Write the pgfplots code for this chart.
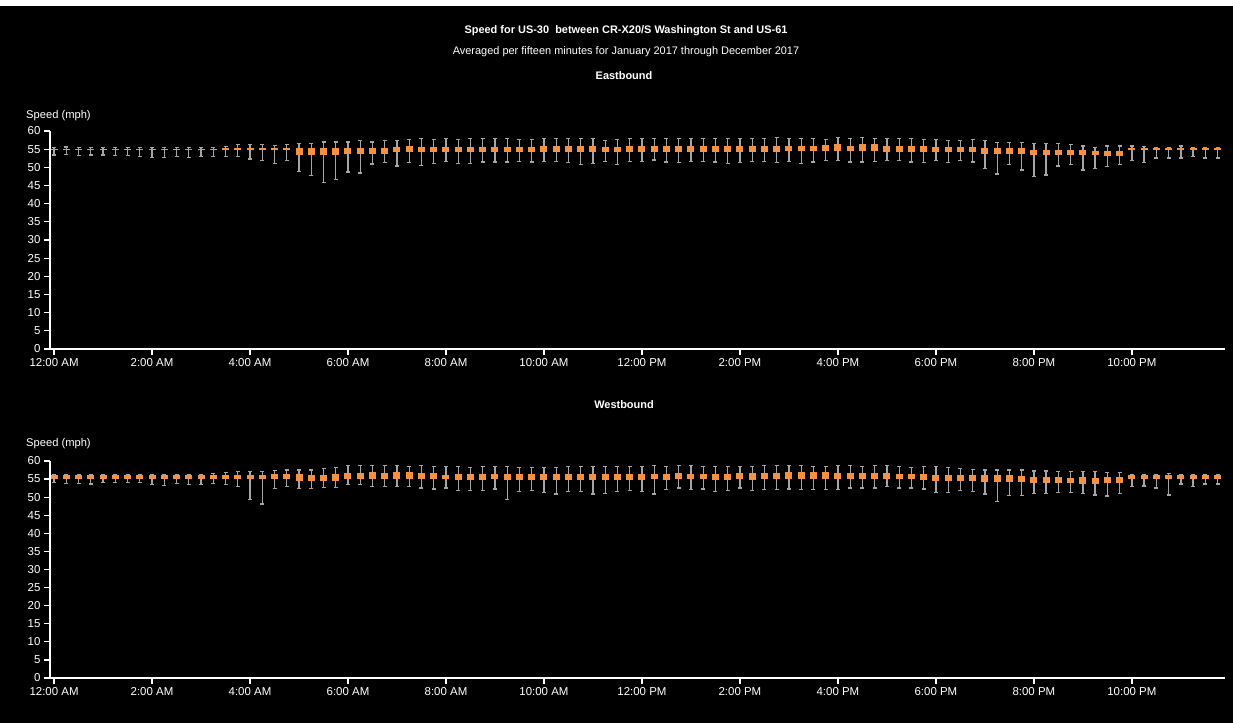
\documentclass[border=0pt]{standalone}
\usepackage{fontspec}
\setmainfont{Liberation Sans}
\usepackage{pgfplots}
\usepackage{pgfplotstable}
\pgfplotsset{compat=1.18}
\definecolor{boxorange}{RGB}{245,145,65}
\definecolor{whisk}{RGB}{165,165,165}

\pgfplotstableread{
i lo q1 q3 hi
0 53.4 54.8 55.1 55.4
1 53.5 54.8 55.1 55.6
2 53.3 54.8 55.1 55.4
3 53.4 54.8 55.1 55.4
4 53.4 54.8 55.1 55.4
5 53.25 54.8 55.1 55.4
6 53.2 54.8 55.1 55.4
7 53.0 54.8 55.1 55.4
8 52.8 54.8 55.1 55.4
9 52.8 54.8 55.1 55.4
10 53.0 54.8 55.1 55.4
11 52.8 54.8 55.1 55.4
12 53.0 54.8 55.1 55.4
13 53.0 54.8 55.1 55.4
14 53.0 54.7 55.2 55.7
15 53.0 54.7 55.2 56.2
16 52.3 54.7 55.2 56.2
17 51.9 54.7 55.2 56.2
18 51.0 54.7 55.2 56.0
19 51.9 54.7 55.2 56.2
20 48.9 53.5 55.2 56.5
21 47.75 53.5 55.2 56.5
22 45.8 53.5 55.2 57.0
23 46.6 53.5 55.45 57.0
24 48.7 53.7 55.45 57.0
25 48.4 53.7 55.45 57.3
26 50.95 53.7 55.45 57.0
27 51.3 53.7 55.45 57.3
28 50.4 54.1 55.7 57.3
29 51.4 54.25 55.9 57.6
30 50.5 54.2 55.7 57.9
31 51.15 54.1 55.7 57.75
32 51.7 54.2 55.7 57.9
33 51.15 54.2 55.7 57.75
34 51.15 54.2 55.7 57.9
35 51.5 54.2 55.7 57.9
36 51.5 54.2 55.7 57.9
37 51.5 54.2 55.7 57.9
38 51.7 54.2 55.7 57.75
39 51.5 54.1 55.7 57.6
40 51.7 54.25 55.9 57.9
41 51.7 54.25 55.9 57.9
42 51.3 54.25 55.9 57.9
43 50.8 54.25 55.9 57.9
44 51.15 54.25 55.9 57.9
45 51.7 54.25 55.7 57.4
46 50.8 54.25 55.7 57.75
47 51.7 54.25 55.9 57.9
48 51.7 54.35 56.0 57.9
49 52.05 54.35 56.0 57.9
50 51.5 54.35 56.0 57.9
51 51.3 54.1 56.0 57.9
52 51.7 54.35 56.0 57.9
53 51.7 54.35 56.0 57.9
54 51.5 54.35 56.0 57.9
55 51.15 54.25 55.9 57.9
56 51.3 54.25 55.9 57.9
57 51.7 54.35 56.0 57.9
58 51.7 54.35 56.0 57.9
59 51.3 54.35 56.0 58.3
60 51.7 54.55 56.0 57.9
61 51.15 54.55 56.0 57.9
62 51.5 54.55 56.0 57.9
63 51.9 54.45 56.1 57.6
64 51.9 54.6 56.3 58.2
65 51.5 54.45 56.0 57.9
66 51.5 54.6 56.3 58.2
67 51.7 54.6 56.3 57.9
68 51.9 54.25 56.0 57.9
69 51.9 54.25 56.0 57.9
70 51.5 54.25 56.0 57.9
71 51.3 54.25 56.0 57.6
72 51.9 54.25 55.7 57.6
73 51.3 54.1 55.7 57.4
74 51.9 54.1 55.7 57.4
75 51.5 54.1 55.7 57.6
76 49.6 53.7 55.45 57.3
77 48.2 53.7 55.2 56.8
78 50.7 53.7 55.2 56.8
79 49.3 53.7 55.2 56.8
80 47.4 53.45 54.9 56.5
81 47.9 53.45 54.7 56.5
82 50.4 53.45 54.7 56.5
83 50.7 53.45 54.7 56.3
84 49.3 53.45 54.7 55.9
85 49.6 53.45 54.45 55.55
86 50.2 53.2 54.45 55.9
87 50.7 53.2 54.45 55.9
88 51.9 54.8 55.2 55.9
89 51.3 54.8 55.2 55.7
90 52.6 54.8 55.2 55.55
91 52.6 54.8 55.2 55.55
92 52.6 54.8 55.2 55.9
93 52.9 54.8 55.2 55.55
94 52.6 54.8 55.2 55.55
95 52.6 54.8 55.2 55.35
}\east

\pgfplotstableread{
i lo q1 q3 hi
0 54.0 55.1 56.1 56.3
1 53.8 55.1 56.1 56.3
2 53.8 55.1 56.1 56.3
3 53.6 55.1 56.1 56.3
4 54.0 55.1 56.1 56.3
5 54.0 55.1 56.1 56.3
6 54.0 55.1 56.1 56.3
7 54.0 55.1 56.1 56.3
8 53.45 55.1 56.1 56.3
9 53.15 55.1 56.1 56.3
10 53.8 55.1 56.1 56.3
11 53.45 55.1 56.1 56.3
12 53.45 55.1 56.1 56.3
13 53.8 55.0 56.1 56.55
14 53.45 55.0 56.1 56.85
15 52.9 55.1 56.1 57.0
16 49.4 55.1 56.1 57.0
17 48.1 55.1 56.1 57.0
18 52.4 55.1 56.3 57.3
19 52.9 55.1 56.3 57.5
20 52.4 54.55 56.4 57.5
21 52.4 54.55 56.2 57.5
22 52.7 54.45 56.2 57.85
23 52.6 54.55 56.45 58.2
24 53.45 55.1 56.75 58.7
25 53.45 55.1 56.75 58.7
26 52.9 55.1 56.95 58.7
27 52.9 55.1 56.75 58.7
28 52.9 55.1 56.95 58.7
29 52.9 55.1 56.95 58.4
30 52.5 54.9 56.75 58.7
31 52.25 54.9 56.75 58.5
32 52.5 54.9 56.1 58.5
33 51.8 54.7 56.4 58.5
34 51.8 54.7 56.4 58.2
35 51.8 54.7 56.4 58.5
36 52.25 55.1 56.4 58.5
37 49.3 54.7 56.4 58.5
38 51.6 54.7 56.4 58.2
39 51.8 54.7 56.4 58.2
40 51.3 54.7 56.4 58.2
41 50.85 54.7 56.4 58.2
42 51.6 54.7 56.4 58.5
43 51.6 54.7 56.4 58.5
44 50.85 54.7 56.4 58.5
45 51.05 54.7 56.4 58.5
46 51.6 54.7 56.4 58.5
47 51.8 54.7 56.4 58.5
48 51.6 54.7 56.4 58.5
49 50.85 55.1 56.4 58.7
50 52.05 54.7 56.4 58.5
51 52.5 54.9 56.75 58.7
52 52.05 55.1 56.4 58.7
53 52.25 55.1 56.4 58.5
54 51.6 54.7 56.4 58.5
55 51.8 54.7 56.4 58.5
56 52.5 54.9 56.75 58.5
57 51.8 54.7 56.75 58.5
58 52.05 55.1 56.75 58.7
59 52.05 54.9 56.75 58.7
60 52.25 55.1 56.95 58.7
61 52.05 55.1 56.95 58.7
62 52.05 55.1 56.95 58.5
63 52.05 55.1 56.95 58.5
64 52.05 54.9 56.75 58.7
65 52.5 54.9 56.75 58.7
66 52.5 54.9 56.75 58.5
67 52.5 54.9 56.75 58.7
68 52.9 55.1 56.75 58.7
69 52.5 55.1 56.4 58.5
70 52.5 55.1 56.4 58.2
71 52.25 54.7 56.4 58.5
72 51.3 54.55 56.2 58.5
73 51.3 54.55 56.2 58.2
74 51.8 54.55 56.2 57.95
75 51.6 54.55 56.2 57.7
76 50.85 54.2 56.2 57.5
77 48.8 54.2 56.2 57.5
78 50.4 54.2 56.2 57.5
79 50.4 54.2 55.9 57.5
80 51.05 53.8 55.45 57.2
81 51.05 53.8 55.45 57.2
82 51.3 53.8 55.45 57.0
83 51.3 53.8 55.2 57.0
84 51.05 53.6 55.65 57.0
85 50.6 53.6 55.35 57.0
86 50.3 53.8 55.65 56.75
87 51.05 53.8 55.45 56.75
88 52.9 55.1 56.1 56.3
89 53.05 55.1 56.1 56.3
90 52.5 55.1 56.1 56.3
91 50.6 55.1 56.1 56.55
92 53.6 55.1 56.1 56.3
93 52.9 55.1 56.1 56.3
94 53.6 55.1 56.1 56.3
95 53.6 55.1 56.1 56.3
}\west

\pgfplotsset{
  speedaxis/.style={
    scale only axis, width=1175bp,
    xmin=-0.33, xmax=95.6, ymin=0, ymax=60,
    axis x line*=bottom, axis y line*=left,
    axis line style={white, line width=1.6bp, -},
    xtick={0,8,...,88},
    xticklabels={12:00 AM,2:00 AM,4:00 AM,6:00 AM,8:00 AM,10:00 AM,12:00 PM,2:00 PM,4:00 PM,6:00 PM,8:00 PM,10:00 PM},
    ytick={0,5,...,60},
    tick style={white, line width=1.3bp},
    major tick length=6bp,
    tick align=outside,
    ticklabel style={white, font=\fontsize{11.5}{13}\selectfont},
    /pgf/number format/assume math mode=true,
    clip=false,
  },
  whiskers/.style={draw=none, mark=none, forget plot,
    error bars/.cd, y dir=both, y explicit,
    error mark=-,
    error mark options={rotate=90, draw=whisk, line width=1.3bp, mark size=2bp},
    error bar style={draw=whisk, line width=1.3bp}},
  boxes/.style={draw=none, mark=none, forget plot,
    error bars/.cd, y dir=plus, y explicit, error mark=none,
    error bar style={draw=boxorange, line width=7bp}},
}

\begin{document}
\begin{tikzpicture}
\fill[white] (0bp,0bp) rectangle (1233bp,723bp);
\fill[black] (0bp,0bp) rectangle (1233bp,717bp);
\useasboundingbox (0bp,0bp) rectangle (1233bp,723bp);

\node[white, font=\bfseries\fontsize{11}{13}\selectfont] at (626bp,692bp) {Speed for US-30~ between CR-X20/S Washington St and US-61};
\node[white, font=\fontsize{11}{13}\selectfont] at (626bp,671bp) {Averaged per fifteen minutes for January 2017 through December 2017};
\node[white, font=\bfseries\fontsize{11}{13}\selectfont] at (624bp,647bp) {Eastbound};
\node[white, font=\bfseries\fontsize{11}{13}\selectfont] at (624bp,318bp) {Westbound};
\node[white, anchor=west, inner sep=0pt, font=\fontsize{11.2}{13}\selectfont] at (26bp,607bp) {Speed (mph)};
\node[white, anchor=west, inner sep=0pt, font=\fontsize{11.2}{13}\selectfont] at (26bp,279bp) {Speed (mph)};

\begin{axis}[speedaxis, height=218bp, at={(50bp,374bp)}, anchor=south west]
\addplot[whiskers] table[x=i, y=q1, y error plus expr=\thisrow{hi}-\thisrow{q1}, y error minus expr=\thisrow{q1}-\thisrow{lo}] {\east};
\addplot[boxes] table[x=i, y=q1, y error plus expr=\thisrow{q3}-\thisrow{q1}] {\east};
\end{axis}

\begin{axis}[speedaxis, height=217bp, at={(50bp,45bp)}, anchor=south west]
\addplot[whiskers] table[x=i, y=q1, y error plus expr=\thisrow{hi}-\thisrow{q1}, y error minus expr=\thisrow{q1}-\thisrow{lo}] {\west};
\addplot[boxes] table[x=i, y=q1, y error plus expr=\thisrow{q3}-\thisrow{q1}] {\west};
\end{axis}
\end{tikzpicture}
\end{document}
